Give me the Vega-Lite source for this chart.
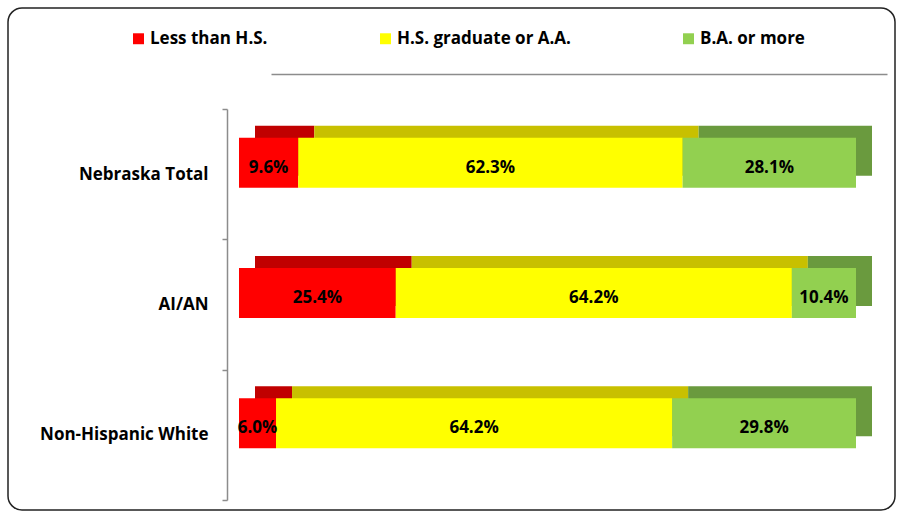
{
  "$schema": "https://vega.github.io/schema/vega-lite/v6.json",
  "width": 887,
  "height": 502,
  "autosize": "none",
  "padding": {"left": 8, "top": 8, "right": 4, "bottom": 4},
  "background": "white",
  "config": {
    "view": {"stroke": "#222222", "strokeWidth": 1.5, "cornerRadius": 14},
    "font": "Open Sans"
  },
  "data": {
    "values": [
      {"group": "Nebraska Total", "cat": "Less than H.S.", "order": 1, "pct": 0.096},
      {"group": "Nebraska Total", "cat": "H.S. graduate or A.A.", "order": 2, "pct": 0.623},
      {"group": "Nebraska Total", "cat": "B.A. or more", "order": 3, "pct": 0.281},
      {"group": "AI/AN", "cat": "Less than H.S.", "order": 1, "pct": 0.254},
      {"group": "AI/AN", "cat": "H.S. graduate or A.A.", "order": 2, "pct": 0.642},
      {"group": "AI/AN", "cat": "B.A. or more", "order": 3, "pct": 0.104},
      {"group": "Non-Hispanic White", "cat": "Less than H.S.", "order": 1, "pct": 0.06},
      {"group": "Non-Hispanic White", "cat": "H.S. graduate or A.A.", "order": 2, "pct": 0.642},
      {"group": "Non-Hispanic White", "cat": "B.A. or more", "order": 3, "pct": 0.298}
    ]
  },
  "layer": [
    {
      "mark": {"type": "bar", "height": 50, "xOffset": 16, "x2Offset": 16, "yOffset": -23.5, "y2Offset": -23.5},
      "encoding": {
        "y": {"field": "group", "type": "nominal", "sort": ["Nebraska Total", "AI/AN", "Non-Hispanic White"],
              "scale": {"range": [101, 492], "paddingInner": 0, "paddingOuter": 0}},
        "x": {"field": "pct", "type": "quantitative", "stack": "zero", "scale": {"domain": [0, 1], "range": [231, 848], "nice": false, "zero": false}, "axis": null},
        "order": {"field": "order", "type": "quantitative"},
        "color": {"field": "cat", "type": "nominal", "legend": null,
                  "scale": {"domain": ["Less than H.S.", "H.S. graduate or A.A.", "B.A. or more"], "range": ["#c00000", "#c8c000", "#6a9a3e"]}}
      }
    },
    {
      "mark": {"type": "bar", "height": 50, "yOffset": -11.5, "y2Offset": -11.5},
      "encoding": {
        "y": {"field": "group", "type": "nominal", "sort": ["Nebraska Total", "AI/AN", "Non-Hispanic White"],
              "axis": {"title": null, "offset": -219, "domainColor": "#8c8c8c", "domainWidth": 1.5, "tickColor": "#8c8c8c", "tickWidth": 1.5, "tickSize": 5, "tickBand": "extent", "labelFontSize": 17, "labelFontWeight": "bold", "labelPadding": 14, "labelColor": "#000000", "labelFont": "Open Sans", "labelLimit": 300}},
        "x": {"field": "pct", "type": "quantitative", "stack": "zero", "scale": {"domain": [0, 1], "range": [231, 848], "nice": false, "zero": false}, "axis": null},
        "order": {"field": "order", "type": "quantitative"},
        "color": {"field": "cat", "type": "nominal",
                  "scale": {"domain": ["Less than H.S.", "H.S. graduate or A.A.", "B.A. or more"], "range": ["#ff0000", "#ffff00", "#92d050"]},
                  "legend": {"orient": "none", "legendX": 122, "legendY": 22, "direction": "horizontal", "title": null, "symbolType": "square", "symbolSize": 120, "symbolStrokeWidth": 0, "labelFontSize": 17, "labelFontWeight": "bold", "labelFont": "Open Sans", "labelColor": "#000000", "labelLimit": 300, "columnPadding": 109, "labelOffset": 3}}
      }
    },
    {
      "mark": {"type": "text", "fontSize": 17, "fontWeight": "bold", "font": "Open Sans", "color": "#000000", "yOffset": -6.5},
      "encoding": {
        "y": {"field": "group", "type": "nominal", "sort": ["Nebraska Total", "AI/AN", "Non-Hispanic White"]},
        "x": {"field": "pct", "type": "quantitative", "stack": "zero", "bandPosition": 0.5, "scale": {"domain": [0, 1], "range": [231, 848], "nice": false, "zero": false}, "axis": null},
        "order": {"field": "order", "type": "quantitative"},
        "text": {"field": "pct", "type": "quantitative", "format": ".1%"}
      }
    },
    {
      "mark": {"type": "point", "opacity": 0},
      "encoding": {
        "x": {"field": "pct", "type": "quantitative", "scale": {"domain": [0, 1], "range": [263, 879], "nice": false, "zero": false},
              "axis": {"orient": "top", "offset": -66, "domainColor": "#8c8c8c", "domainWidth": 1.5, "ticks": false, "labels": false, "title": null, "grid": false}}
      }
    }
  ],
  "resolve": {"scale": {"color": "independent", "x": "independent"}}
}
